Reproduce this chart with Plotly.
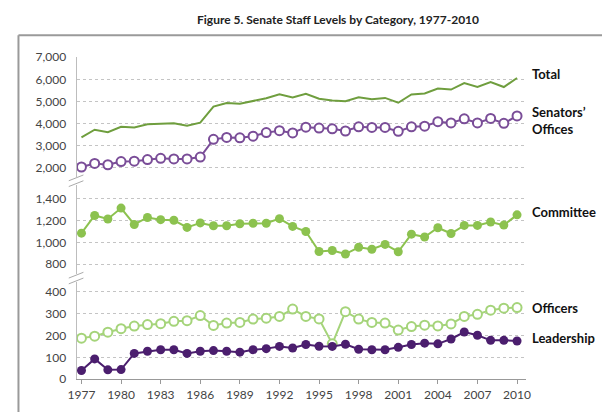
import plotly.graph_objects as go

# The page body adds an 8px margin, so the figure is 8px smaller than the window
OFF = 8
W, H = 610 - OFF, 419 - OFF

years = list(range(1977, 2011))
total = [3380, 3725, 3610, 3855, 3826, 3971, 4000, 4014, 3900, 4043, 4768, 4928, 4900, 5014, 5145,
         5319, 5180, 5345, 5120, 5043, 5014, 5188, 5100, 5160, 4942, 5319, 5362, 5580, 5536, 5826,
         5652, 5870, 5652, 6058]
senators = [2043, 2203, 2145, 2290, 2304, 2377, 2435, 2406, 2406, 2493, 3290, 3377, 3362, 3435, 3594,
            3681, 3580, 3841, 3797, 3768, 3667, 3855, 3826, 3826, 3652, 3855, 3884, 4087, 4029, 4217,
            4029, 4232, 4014, 4348]
committee = [1085, 1247, 1215, 1315, 1165, 1229, 1209, 1203, 1138, 1179, 1153, 1153, 1171, 1176, 1176,
             1218, 1147, 1100, 917, 926, 894, 956, 938, 982, 915, 1076, 1050, 1135, 1082, 1156,
             1156, 1188, 1159, 1253]
officers = [188, 197, 215, 231, 243, 250, 254, 265, 268, 291, 246, 257, 260, 275, 279,
            287, 321, 287, 276, 162, 309, 275, 260, 257, 225, 241, 247, 244, 253, 287,
            297, 316, 325, 328]
leadership = [40, 93, 43, 44, 118, 128, 135, 135, 118, 128, 131, 128, 124, 135, 140,
              150, 143, 159, 151, 150, 160, 137, 135, 135, 146, 159, 165, 162, 184, 216,
              201, 178, 178, 175]

x_ticks = list(range(1977, 2011, 3))
top_ticks = [2000, 3000, 4000, 5000, 6000, 7000]
mid_ticks = [800, 1000, 1200, 1400]
bot_ticks = [0, 100, 200, 300, 400]

title_text = "Figure 5. Senate Staff Levels by Category, 1977-2010"

C_TOTAL = "#6f9e3e"
C_SEN = "#7a4d98"
C_COMM = "#8cc24f"
C_OFF = "#a5d47a"
C_LEAD = "#4b1e6e"

FONT = "Lato, Roboto, sans-serif"


def pyp(p):
    return 1 - (p - OFF) / H


def pxp(p):
    return (p - OFF) / W


fig = go.Figure()

fig.add_trace(go.Scatter(x=years, y=total, mode="lines", line=dict(color=C_TOTAL, width=2),
                         xaxis="x", yaxis="y", showlegend=False))
fig.add_trace(go.Scatter(x=years, y=senators, mode="lines+markers", line=dict(color=C_SEN, width=2),
                         marker=dict(size=9, color="white", line=dict(color=C_SEN, width=2)),
                         xaxis="x", yaxis="y", showlegend=False))
fig.add_trace(go.Scatter(x=years, y=committee, mode="lines+markers", line=dict(color=C_COMM, width=2),
                         marker=dict(size=9, color=C_COMM),
                         xaxis="x", yaxis="y2", showlegend=False))
fig.add_trace(go.Scatter(x=years, y=officers, mode="lines+markers", line=dict(color=C_OFF, width=2),
                         marker=dict(size=9, color="white", line=dict(color=C_OFF, width=2)),
                         xaxis="x", yaxis="y3", showlegend=False))
fig.add_trace(go.Scatter(x=years, y=leadership, mode="lines+markers", line=dict(color=C_LEAD, width=2),
                         marker=dict(size=9, color=C_LEAD),
                         xaxis="x", yaxis="y3", showlegend=False))

yax_common = dict(showline=True, linecolor="#bdbdbd", linewidth=1, showgrid=True,
                  gridcolor="#c4c4c4", griddash="dot", gridwidth=1, zeroline=False,
                  tickformat=",", ticks="", ticklabelstandoff=7,
                  tickfont=dict(family=FONT, size=12, color="#444"), anchor="x", fixedrange=True)

fig.update_layout(
    width=W, height=H,
    margin=dict(l=0, r=0, t=0, b=0),
    paper_bgcolor="white", plot_bgcolor="white",
    xaxis=dict(domain=[pxp(69), pxp(529)], range=[1976.63, 2010.67], anchor="y3",
               tickvals=x_ticks, ticks="outside", ticklen=4, tickcolor="#999",
               showline=True, linecolor="#999", linewidth=1, showgrid=False, zeroline=False,
               tickfont=dict(family=FONT, size=12, color="#444"), fixedrange=True),
    yaxis=dict(domain=[pyp(175), pyp(50.7)], range=[1596, 7000], tickvals=top_ticks, **yax_common),
    yaxis2=dict(domain=[pyp(276), pyp(183)], range=[709, 1530], tickvals=mid_ticks, **yax_common),
    yaxis3=dict(domain=[pyp(385), pyp(284)], range=[0, 445], tickvals=bot_ticks, **yax_common),
)

annotations = [
    dict(text="<b>" + title_text + "</b>", x=pxp(337), y=pyp(12), xanchor="center", yanchor="middle",
         font=dict(family=FONT, size=12, color="#222")),
    dict(text="<b>Total</b>", x=pxp(533), y=pyp(68)),
    dict(text="<b>Senators’<br>Offices</b>", x=pxp(533), y=pyp(116)),
    dict(text="<b>Committee</b>", x=pxp(533), y=pyp(211.5)),
    dict(text="<b>Officers</b>", x=pxp(533), y=pyp(311)),
    dict(text="<b>Leadership</b>", x=pxp(533), y=pyp(342.5)),
]
for a in annotations:
    a.setdefault("xanchor", "left")
    a.setdefault("yanchor", "middle")
    a.setdefault("font", dict(family=FONT, size=13, color="#111"))
    a.update(xref="paper", yref="paper", showarrow=False, align="left")
    fig.add_annotation(**a)

shapes = []
# frame lines
shapes.append(dict(type="line", xref="paper", yref="paper", x0=pxp(9.5), x1=1.0, y0=pyp(28), y1=pyp(28),
                   line=dict(color="#9a9a9a", width=2)))
shapes.append(dict(type="line", xref="paper", yref="paper", x0=pxp(9.5), x1=pxp(9.5), y0=pyp(28), y1=0,
                   line=dict(color="#9a9a9a", width=2)))
# axis break marks
for yb in (179, 280):
    for off in (-3, 3):
        shapes.append(dict(type="line", xref="paper", yref="paper",
                           x0=pxp(61), x1=pxp(76), y0=pyp(yb + off + 3), y1=pyp(yb + off - 3),
                           line=dict(color="#aaaaaa", width=1)))
fig.update_layout(shapes=shapes)

fig.write_html("out.html", config={"displayModeBar": False, "staticPlot": True})
